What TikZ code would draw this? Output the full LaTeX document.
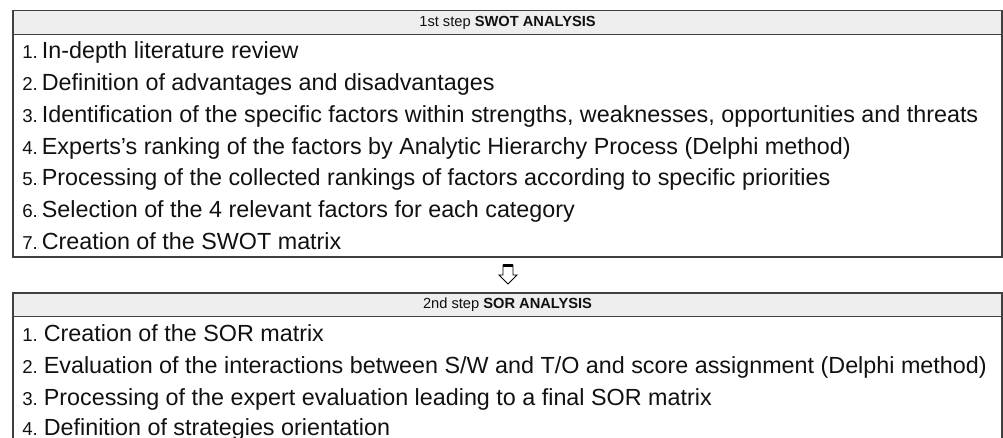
\documentclass[tikz,border=0pt]{standalone}
\usepackage{fontspec}
\setmainfont{Liberation Sans}
\definecolor{frameclr}{HTML}{404040}
\definecolor{headclr}{HTML}{EEEEEE}
\definecolor{txtclr}{HTML}{111111}
\newcommand\numlbl[1]{{\fontsize{14}{16}\selectfont #1}}
\begin{document}
\begin{tikzpicture}[x=0.75pt,y=-0.75pt,
  frame/.style={draw=frameclr, line width=1.1pt, inner sep=0pt, outer sep=0pt, rectangle, anchor=north west, minimum width=741.75pt},
  head/.style={frame, fill=headclr, minimum height=17.7pt, font=\fontsize{11}{13}\selectfont, text=txtclr},
  row/.style={anchor=base west, inner sep=0pt, font=\fontsize{17.5}{20}\selectfont, text=txtclr},
  blockarrow/.style={draw=black, fill=white, line width=0.6pt}
  ]
\useasboundingbox (0,0) rectangle (1003,437);
\clip (0,0) rectangle (1003,437);
% first box
\node[frame, minimum height=184.7pt] (box1) at (13,10.7) {};
\node[head] (head1) at (13,10.7) {1st step \textbf{SWOT ANALYSIS}};
\node[row] (a1) at (22,58) {\numlbl{1.}\hspace{3pt}In-depth literature review};
\node[row] (a2) at (22,90) {\numlbl{2.}\hspace{3pt}Definition of advantages and disadvantages};
\node[row] (a3) at (22,122) {\numlbl{3.}\hspace{3pt}Identification of the specific factors within strengths, weaknesses, opportunities and threats};
\node[row] (a4) at (22,154) {\numlbl{4.}\hspace{3pt}Experts’s ranking of the factors by Analytic Hierarchy Process (Delphi method)};
\node[row] (a5) at (22,185.5) {\numlbl{5.}\hspace{3pt}Processing of the collected rankings of factors according to specific priorities};
\node[row] (a6) at (22,217.5) {\numlbl{6.}\hspace{3pt}Selection of the 4 relevant factors for each category};
\node[row] (a7) at (22,249) {\numlbl{7.}\hspace{3pt}Creation of the SWOT matrix};
% arrow
\draw[blockarrow] (503,265) -- (513,265) -- (513,275) -- (517,275) -- (508,284) -- (499,275) -- (503,275) -- cycle;
\draw[line width=1.8pt] (503,265.5) -- (513,265.5);
% second box
\node[frame, minimum height=120pt] (box2) at (13,293) {};
\node[head] (head2) at (13,293) {2nd step \textbf{SOR ANALYSIS}};
\node[row] (b1) at (22,341) {\numlbl{1.}\hspace{4.5pt}Creation of the SOR matrix};
\node[row] (b2) at (22,373) {\numlbl{2.}\hspace{4.5pt}Evaluation of the interactions between S/W and T/O and score assignment (Delphi method)};
\node[row] (b3) at (22,405) {\numlbl{3.}\hspace{4.5pt}Processing of the expert evaluation leading to a final SOR matrix};
\node[row] (b4) at (22,435.5) {\numlbl{4.}\hspace{4.5pt}Definition of strategies orientation};
\end{tikzpicture}
\end{document}
